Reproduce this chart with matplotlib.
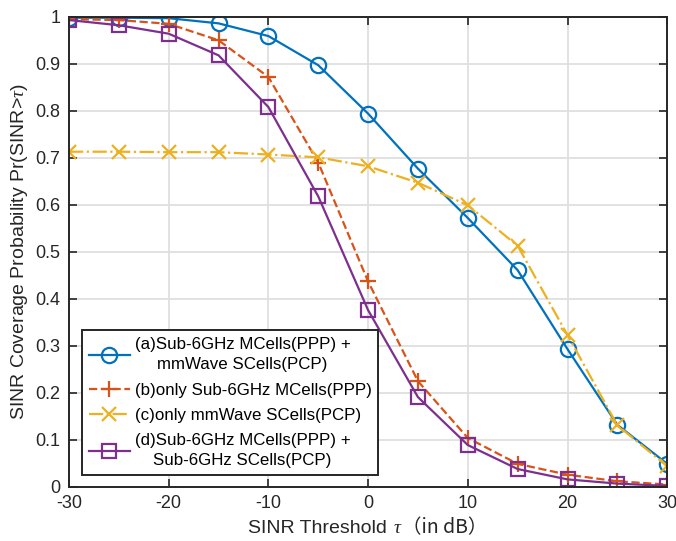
import matplotlib
matplotlib.use("Agg")
import matplotlib.pyplot as plt
from matplotlib.offsetbox import TextArea, HPacker, AnchoredOffsetbox

plt.rcParams['font.family'] = ['Liberation Sans', 'Noto Sans CJK SC', 'DejaVu Sans']
plt.rcParams['mathtext.fontset'] = 'custom'
plt.rcParams['mathtext.it'] = 'Liberation Serif:italic'
plt.rcParams['mathtext.rm'] = 'Liberation Sans'
plt.rcParams['axes.unicode_minus'] = False

x = [-30, -25, -20, -15, -10, -5, 0, 5, 10, 15, 20, 25, 30]
y_a = [0.998, 0.998, 0.997, 0.986, 0.959, 0.897, 0.794, 0.677, 0.572, 0.461, 0.293, 0.132, 0.049]
y_b = [0.995, 0.993, 0.985, 0.950, 0.872, 0.690, 0.437, 0.225, 0.104, 0.049, 0.026, 0.012, 0.005]
y_c = [0.713, 0.713, 0.712, 0.712, 0.707, 0.701, 0.682, 0.647, 0.599, 0.513, 0.323, 0.131, 0.044]
y_d = [0.993, 0.982, 0.964, 0.918, 0.808, 0.618, 0.376, 0.191, 0.089, 0.038, 0.016, 0.007, 0.002]

labels = ["(a)Sub-6GHz MCells(PPP) +\nmmWave SCells(PCP)",
          "(b)only Sub-6GHz MCells(PPP)",
          "(c)only mmWave SCells(PCP)",
          "(d)Sub-6GHz MCells(PPP) +\nSub-6GHz SCells(PCP)"]
xticks = [-30, -20, -10, 0, 10, 20, 30]
yticks = [0, 0.1, 0.2, 0.3, 0.4, 0.5, 0.6, 0.7, 0.8, 0.9, 1]
ytick_labels = ['0', '0.1', '0.2', '0.3', '0.4', '0.5', '0.6', '0.7', '0.8', '0.9', '1']
xlabel_parts = ["SINR Threshold ", r"$\tau$", "（in dB）"]
ylabel = r"SINR Coverage Probability Pr(SINR>$\tau$)"

fig = plt.figure(figsize=(6.76, 5.41), dpi=100)
ax = fig.add_axes([0.102, 0.100, 0.885, 0.869])

ax.plot(x, y_a, '-', color='#0072BD', lw=1.6, marker='o', ms=11, mfc='none', mew=1.6, label=labels[0])
ax.plot(x, y_b, '--', color='#D95319', lw=1.6, marker='+', ms=12, mew=1.6, label=labels[1])
ax.plot(x, y_c, '-.', color='#EDB120', lw=1.6, marker='x', ms=10, mew=1.6, label=labels[2])
ax.plot(x, y_d, '-', color='#7E2F8E', lw=1.6, marker='s', ms=10, mfc='none', mew=1.6, label=labels[3])

ax.set_xlim(-30, 30)
ax.set_ylim(0, 1)
ax.set_xticks(xticks)
ax.set_yticks(yticks)
ax.set_yticklabels(ytick_labels)
ax.tick_params(direction='in', length=6, width=1.2, top=True, right=True, labelsize=13, colors='#262626', pad=6)
ax.grid(True, color='#DFDFDF', lw=1.3)
ax.set_axisbelow(True)
for s in ax.spines.values():
    s.set_linewidth(1.4)
    s.set_color('#262626')

# x label assembled from pieces so the fullwidth brackets use a CJK font
tp_latin = dict(size=14, color='#262626', family=['Liberation Sans'])
tp_cjk = dict(size=14, color='#262626', family=['Noto Sans CJK SC', 'Liberation Sans'])
parts = [TextArea(xlabel_parts[0], textprops=tp_latin),
         TextArea(xlabel_parts[1], textprops=tp_latin),
         TextArea(xlabel_parts[2], textprops=tp_cjk)]
box = HPacker(children=parts, align='baseline', pad=0, sep=0)
anch = AnchoredOffsetbox(loc='upper center', child=box, pad=0, frameon=False,
                         bbox_to_anchor=(0.5, -0.064), bbox_transform=ax.transAxes, borderpad=0)
ax.add_artist(anch)

ax.set_ylabel(ylabel, fontsize=14, color='#262626', labelpad=4)

leg = ax.legend(loc='lower left', bbox_to_anchor=(0.022, 0.025), fontsize=12.2,
                fancybox=False, edgecolor='#262626', framealpha=1, handlelength=2.4,
                borderpad=0.4, labelspacing=0.6, handletextpad=0.3, borderaxespad=0)
leg.get_frame().set_linewidth(1.4)
for t in leg.get_texts():
    t.set_multialignment('center')
    t.set_linespacing(1.45)

fig.savefig('out.png', dpi=100)
